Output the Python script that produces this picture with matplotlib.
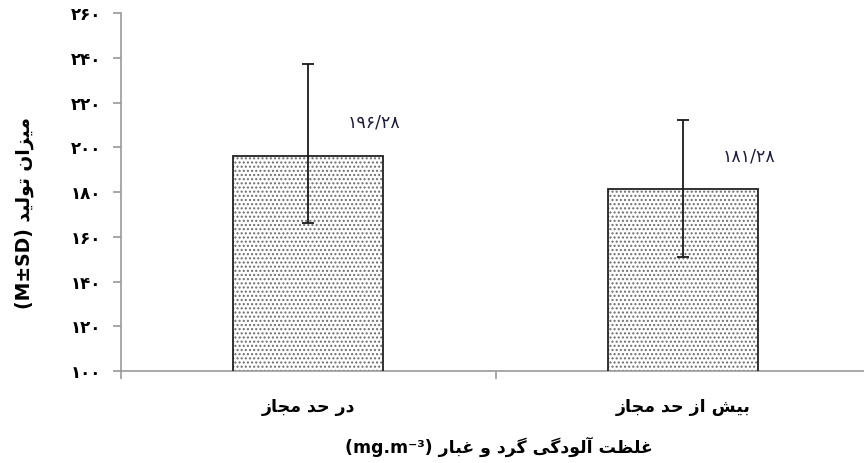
import matplotlib
matplotlib.use("Agg")
import matplotlib.pyplot as plt
import matplotlib.transforms as mtransforms
from matplotlib import font_manager, ft2font
from matplotlib.font_manager import FontProperties
import numpy as np

# داده‌ها
categories = ["در حد مجاز", "بیش از حد مجاز"]
means = [196.28, 181.28]
sd_lower = [30.2, 30.5]
sd_upper = [41.1, 30.9]
yticks = [100, 120, 140, 160, 180, 200, 220, 240, 260]
ylabel_fa = "میزان تولید"
ylabel_lat = "(M±SD)"
xlabel_fa = "غلظت آلودگی گرد و غبار"
xlabel_lat = "(mg.m⁻³)"

# --- شکل‌دهی ساده حروف فارسی (matplotlib خودش اتصال حروف را انجام نمی‌دهد)
FORMS = {
    'ا': ('\uFE8D', '\uFE8E', None, None),
    'آ': ('\uFE81', '\uFE82', None, None),
    'ب': ('\uFE8F', '\uFE90', '\uFE91', '\uFE92'),
    'ت': ('\uFE95', '\uFE96', '\uFE97', '\uFE98'),
    'ج': ('\uFE9D', '\uFE9E', '\uFE9F', '\uFEA0'),
    'ح': ('\uFEA1', '\uFEA2', '\uFEA3', '\uFEA4'),
    'د': ('\uFEA9', '\uFEAA', None, None),
    'ر': ('\uFEAD', '\uFEAE', None, None),
    'ز': ('\uFEAF', '\uFEB0', None, None),
    'ش': ('\uFEB5', '\uFEB6', '\uFEB7', '\uFEB8'),
    'ظ': ('\uFEC5', '\uFEC6', '\uFEC7', '\uFEC8'),
    'غ': ('\uFECD', '\uFECE', '\uFECF', '\uFED0'),
    'ل': ('\uFEDD', '\uFEDE', '\uFEDF', '\uFEE0'),
    'م': ('\uFEE1', '\uFEE2', '\uFEE3', '\uFEE4'),
    'ن': ('\uFEE5', '\uFEE6', '\uFEE7', '\uFEE8'),
    'و': ('\uFEED', '\uFEEE', None, None),
    'ی': ('\uFBFC', '\uFBFD', '\uFBFE', '\uFBFF'),
    'گ': ('\uFB92', '\uFB93', '\uFB94', '\uFB95'),
}

bold_path = font_manager.findfont(FontProperties(family="DejaVu Sans", weight="bold"))
cmap = ft2font.FT2Font(bold_path).get_charmap()
FA_WEIGHT = "bold" if 0xFEE3 in cmap else "normal"
if FA_WEIGHT == "normal":
    cmap = ft2font.FT2Font(font_manager.findfont(FontProperties(family="DejaVu Sans"))).get_charmap()
if 0xFBFE not in cmap:
    FORMS['ی'] = ('\uFEEF', '\uFEF0', '\uFEF3', '\uFEF4')
if 0xFB94 not in cmap:
    FORMS['گ'] = ('\uFED9', '\uFEDA', '\uFEDB', '\uFEDC')


def fa(text):
    out = []
    for i, ch in enumerate(text):
        if ch not in FORMS:
            out.append(ch)
            continue
        prev = text[i - 1] if i > 0 else ' '
        nxt = text[i + 1] if i + 1 < len(text) else ' '
        join_prev = prev in FORMS and FORMS[prev][2] is not None
        join_next = FORMS[ch][2] is not None and nxt in FORMS
        iso, fin, ini, med = FORMS[ch]
        if join_prev and join_next:
            out.append(med)
        elif join_prev:
            out.append(fin)
        elif join_next:
            out.append(ini)
        else:
            out.append(iso)
    return ''.join(reversed(out))


def fa_digits(s):
    return s.translate(str.maketrans("0123456789", "۰۱۲۳۴۵۶۷۸۹"))


plt.rcParams['font.family'] = ['DejaVu Sans']
plt.rcParams['hatch.linewidth'] = 1.0
plt.rcParams['hatch.color'] = '#6e6e6e'

fig = plt.figure(figsize=(8.64, 4.63), dpi=100)
ax = fig.add_axes([0.140, 0.1987, 0.868, 0.773])

x = np.arange(len(categories))
ax.bar(x, means, width=0.40, bottom=0, color='white', hatch='....',
       edgecolor='#6e6e6e', linewidth=0, zorder=2)
ax.bar(x, means, width=0.40, bottom=0, fill=False, edgecolor='#222222',
       linewidth=1.3, zorder=3)
ax.errorbar(x, means, yerr=[sd_lower, sd_upper], fmt='none', ecolor='#1a1a1a',
            elinewidth=1.3, capsize=4.3, capthick=1.3, zorder=4)

# برچسب مقدار
for xi, m in zip(x, means):
    ax.text(xi + 0.175, m + 14.7, fa_digits(f"{m:.2f}".replace('.', '/')),
            ha='center', va='center', fontsize=12.5, color='#1c1c3c', zorder=5)

ax.set_ylim(100, 260)
ax.set_xlim(-0.5, 1.5)
ax.set_yticks(yticks)
ax.set_yticklabels([fa_digits(str(t)) for t in yticks], fontsize=12,
                   fontweight=FA_WEIGHT)
ax.set_xticks([-0.5, 0.5, 1.5])
ax.set_xticklabels([])

for side in ['top', 'right']:
    ax.spines[side].set_visible(False)
for side in ['left', 'bottom']:
    ax.spines[side].set_color('#9a9a9a')
    ax.spines[side].set_linewidth(1.2)
ax.tick_params(axis='both', direction='out', length=6, width=1.2,
               color='#9a9a9a')
ax.tick_params(axis='y', pad=8)

# برچسب دسته‌ها
trans = mtransforms.blended_transform_factory(ax.transData, ax.transAxes)
for xi, cat in zip(x, categories):
    ax.text(xi, -0.100, fa(cat), transform=trans, ha='center', va='center',
            fontsize=12.5, fontweight=FA_WEIGHT, clip_on=False)

fig.text(0.577, 0.035, xlabel_lat + ' ' + fa(xlabel_fa), ha='center',
         va='center', fontsize=12.5, fontweight=FA_WEIGHT)
fig.text(0.028, 0.539, ylabel_lat + ' ' + fa(ylabel_fa), ha='center',
         va='center', rotation=90, fontsize=13.5, fontweight=FA_WEIGHT)

fig.savefig("out.png", dpi=100)
